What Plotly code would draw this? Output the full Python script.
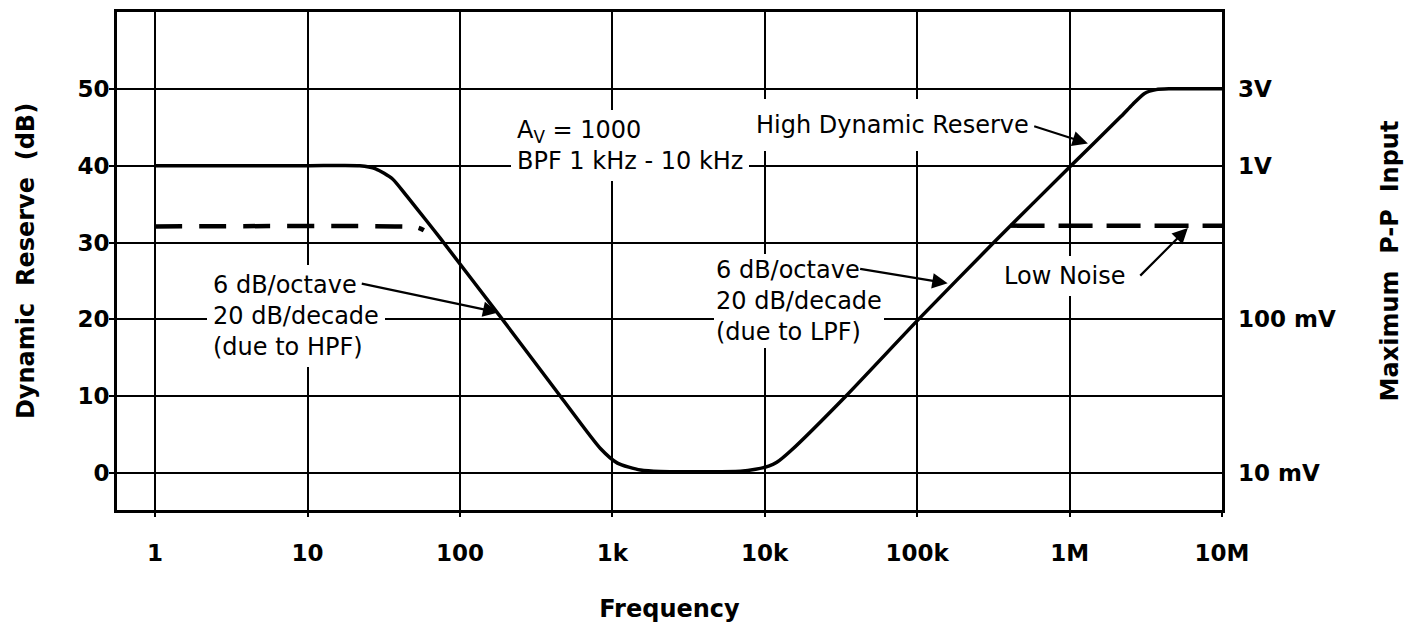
import plotly.graph_objects as go

# ---- data ----
freq_hz = [1, 10, 22, 28, 36, 45, 60, 74, 190, 456, 835, 1080, 1530, 2070,
           6940, 8710, 10600, 12000, 15000, 34000, 102000, 318000, 1.02e6,
           2.17e6, 2.6e6, 3.1e6, 3.7e6, 4.5e6, 1e7]
reserve_db = [40, 40, 40, 39.6, 38.3, 36.0, 32.9, 30.6, 20, 10, 3.2, 1.3, 0.4, 0.2,
              0.25, 0.5, 0.9, 1.4, 3.0, 10, 20, 30, 40,
              46.4, 48.0, 49.4, 49.9, 50, 50]

low_noise_left_freq = [1, 40, 52, 58]
low_noise_left_db = [32.1, 32.1, 32.0, 31.6]
low_noise_right_freq = [410000, 1e7]
low_noise_right_db = [32.2, 32.2]

x_tick_vals = [1, 10, 100, 1e3, 1e4, 1e5, 1e6, 1e7]
x_tick_text = ["1", "10", "100", "1k", "10k", "100k", "1M", "10M"]
y_tick_vals = [0, 10, 20, 30, 40, 50]
y2_tick_vals = [50, 40, 20, 0]
y2_tick_text = ["3V", "1V", "100 mV", "10 mV"]

FONT = "DejaVu Sans"

fig = go.Figure()
fig.add_trace(go.Scatter(x=freq_hz, y=reserve_db, mode="lines",
                         line=dict(color="black", width=3.5, shape="spline", smoothing=0.6),
                         hoverinfo="skip"))
fig.add_trace(go.Scatter(x=low_noise_left_freq, y=low_noise_left_db, mode="lines",
                         line=dict(color="black", width=4.5, dash="27px,17px", shape="spline"),
                         hoverinfo="skip"))
fig.add_trace(go.Scatter(x=low_noise_right_freq, y=low_noise_right_db, mode="lines",
                         line=dict(color="black", width=4.5, dash="34px,14px"),
                         hoverinfo="skip"))
fig.add_trace(go.Scatter(x=[1], y=[0], yaxis="y2", mode="markers",
                         marker=dict(opacity=0), hoverinfo="skip"))

txt = dict(family=FONT, size=24, color="black")
box = dict(showarrow=False, bgcolor="white", borderwidth=0, xref="x", yref="y",
           xanchor="left", yanchor="middle", align="left", font=txt)
ann = []
ann.append(dict(box, x=2.337, y=42.6, borderpad=6,
                text="A<sub>V</sub> = 1000<br>BPF 1 kHz - 10 kHz"))
ann.append(dict(box, x=3.861, y=45.3, borderpad=12, text="High Dynamic Reserve"))
ann.append(dict(box, x=0.341, y=20.5, borderpad=6,
                text="6 dB/octave<br>20 dB/decade<br>(due to HPF)"))
ann.append(dict(box, x=3.664, y=22.4, borderpad=2,
                text="6 dB/octave<br>20 dB/decade<br>(due to LPF)"))
ann.append(dict(box, x=5.529, y=25.7, borderpad=6, text="Low Noise"))

# arrows (tail -> head), positions in log10(freq), dB
arrows = [((5.758, 45.2), (6.12, 42.9)),
          ((1.346, 24.7), (2.252, 20.9)),
          ((4.616, 26.6), (5.20, 24.7)),
          ((6.454, 25.5), (6.776, 31.9))]
for (tx, ty), (hx, hy) in arrows:
    ann.append(dict(x=hx, y=hy, ax=tx, ay=ty, xref="x", yref="y", axref="x", ayref="y",
                    text="", showarrow=True, arrowhead=2, arrowsize=1.4, arrowwidth=2.2,
                    arrowcolor="black"))

tickfont = dict(family=FONT, size=23, color="black", weight="bold")
titlefont = dict(family=FONT, size=24, color="black", weight="bold")

fig.update_layout(
    width=1413, height=627,
    margin=dict(l=117, r=191, t=12, b=117),
    paper_bgcolor="white", plot_bgcolor="white",
    showlegend=False, hovermode=False,
    annotations=ann,
    xaxis=dict(type="log", range=[-0.25, 7], tickvals=x_tick_vals, ticktext=x_tick_text,
               showgrid=True, gridcolor="black", gridwidth=2,
               showline=True, linecolor="black", linewidth=3, mirror=True,
               ticks="outside", ticklen=4, tickwidth=2, tickcolor="black",
               tickfont=tickfont, ticklabelstandoff=16, automargin=False,
               title=dict(text="Frequency", font=titlefont, standoff=36),
               zeroline=False),
    yaxis=dict(range=[-4.8, 60], tickvals=y_tick_vals,
               showgrid=True, gridcolor="black", gridwidth=2,
               showline=True, linecolor="black", linewidth=3, mirror=True,
               ticks="outside", ticklen=5, tickwidth=2, tickcolor="black",
               tickfont=tickfont, ticklabelstandoff=-5, automargin=False,
               title=dict(text="Dynamic\u00a0\u00a0Reserve\u00a0\u00a0(dB)", font=titlefont, standoff=36),
               zeroline=False),
    yaxis2=dict(range=[-4.8, 60], overlaying="y", side="right", tickvals=y2_tick_vals,
                ticktext=y2_tick_text, showgrid=False, showline=False, zeroline=False,
                ticks="", tickfont=tickfont, ticklabelstandoff=15, automargin=False,
                title=dict(text="Maximum\u00a0\u00a0P-P\u00a0\u00a0Input", font=titlefont, standoff=46)),
)

fig.write_html("out.html", config={"displayModeBar": False},
               post_script="document.body.style.margin='0';")
